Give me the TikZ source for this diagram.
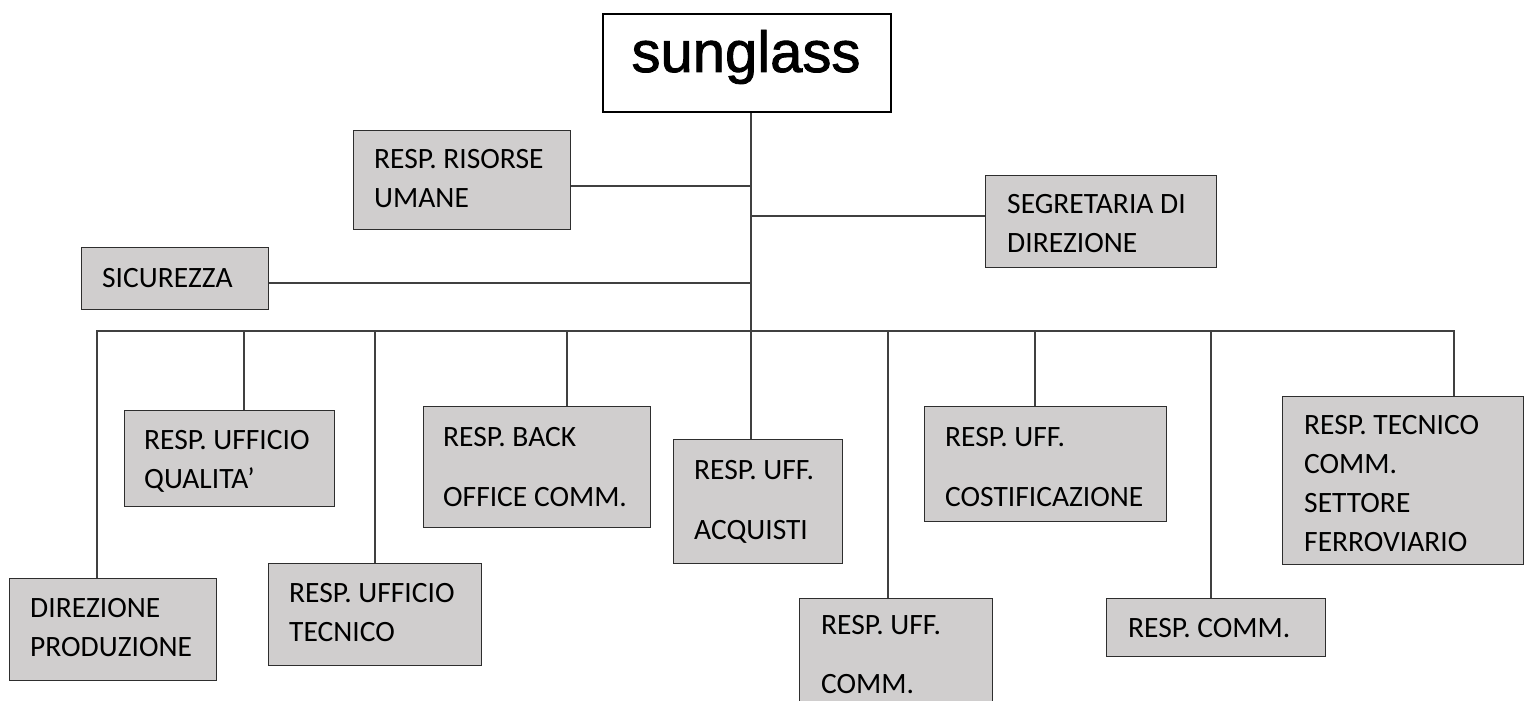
\documentclass[tikz,border=0pt]{standalone}
\usepackage{fontspec}
\setmainfont{Carlito}
\newfontfamily\logofont[FakeBold=1.5]{Liberation Sans}
\usetikzlibrary{calc}
\definecolor{boxgray}{HTML}{D0CECE}
\definecolor{edgegray}{HTML}{2E2E2E}
\definecolor{linegray}{HTML}{404040}
\tikzset{
  unitbox/.style={draw=edgegray, fill=boxgray, line width=1.3pt, inner sep=0pt, anchor=north west},
  logobox/.style={draw=black, fill=white, line width=2pt, inner sep=0pt, anchor=north west},
  boxtext/.style={anchor=base west, align=left, inner sep=0pt, font=\fontsize{29.5}{39}\selectfont, text=black},
  logotext/.style={anchor=base, inner sep=0pt, font=\logofont\fontsize{58}{60}\selectfont, text=black},
  link/.style={draw=linegray, line width=1.1pt},
}
\begin{document}
\begin{tikzpicture}[x=1pt,y=1pt]
\path[use as bounding box, fill=white] (0,0) rectangle (1529,-701);
\clip (0,0) rectangle (1529,-701);

% connector end points
\coordinate (trunk) at (751,-331);
\coordinate (jr) at (751,-186);
\coordinate (js) at (751,-216);
\coordinate (jc) at (751,-283);
\coordinate (b1) at (97,-331);
\coordinate (b2) at (244,-331);
\coordinate (b3) at (375,-331);
\coordinate (b4) at (567,-331);
\coordinate (b6) at (888,-331);
\coordinate (b7) at (1035,-331);
\coordinate (b8) at (1211,-331);
\coordinate (b9) at (1454,-331);

% boxes
\node[logobox, minimum width=288pt, minimum height=98pt] (sun) at (602,-13) {};
\node[unitbox, minimum width=217pt, minimum height=99pt] (ris) at (353,-130) {};
\node[unitbox, minimum width=231pt, minimum height=92pt] (seg) at (985,-175) {};
\node[unitbox, minimum width=187pt, minimum height=62pt] (sic) at (81,-247) {};
\node[unitbox, minimum width=207pt, minimum height=102pt] (dir) at (9,-578) {};
\node[unitbox, minimum width=210pt, minimum height=96pt] (qual) at (124,-410) {};
\node[unitbox, minimum width=213pt, minimum height=102pt] (tec) at (268,-563) {};
\node[unitbox, minimum width=227pt, minimum height=121pt] (back) at (423,-406) {};
\node[unitbox, minimum width=169pt, minimum height=124pt] (acq) at (673,-439) {};
\node[unitbox, minimum width=193pt, minimum height=130pt] (ucomm) at (799,-598) {};
\node[unitbox, minimum width=242pt, minimum height=115pt] (cost) at (924,-406) {};
\node[unitbox, minimum width=219pt, minimum height=58pt] (rcomm) at (1106,-598) {};
\node[unitbox, minimum width=241pt, minimum height=168pt] (tcomm) at (1282,-396) {};

% connectors
\draw[link] (sun.south -| trunk) -- (trunk) -- (trunk |- acq.north);
\draw[link] (ris.east |- jr) -- (jr);
\draw[link] (js) -- (js -| seg.west);
\draw[link] (sic.east |- jc) -- (jc);
\draw[link] (b1 |- dir.north) -- (b1) -- (b9) -- (b9 |- tcomm.north);
\draw[link] (b2) -- (b2 |- qual.north);
\draw[link] (b3) -- (b3 |- tec.north);
\draw[link] (b4) -- (b4 |- back.north);
\draw[link] (b6) -- (b6 |- ucomm.north);
\draw[link] (b7) -- (b7 |- cost.north);
\draw[link] (b8) -- (b8 |- rcomm.north);

% texts (base anchor = baseline of the last line)
\node[logotext] (sun-t) at (746,-72) {sunglass};
\node[boxtext] (ris-t) at ($(ris.north west)+(21,-77)$) {RESP. RISORSE\\UMANE};
\node[boxtext] (seg-t) at ($(seg.north west)+(22,-77)$) {SEGRETARIA DI\\DIREZIONE};
\node[boxtext] (sic-t) at ($(sic.north west)+(21,-40)$) {SICUREZZA};
\node[boxtext] (dir-t) at ($(dir.north west)+(21,-78)$) {DIREZIONE\\PRODUZIONE};
\node[boxtext] (qual-t) at ($(qual.north west)+(20,-78)$) {RESP. UFFICIO\\QUALITA’};
\node[boxtext] (tec-t) at ($(tec.north west)+(21,-78)$) {RESP. UFFICIO\\TECNICO};
\node[boxtext] (back-t) at ($(back.north west)+(20,-100)$) {RESP. BACK\\[21pt]OFFICE COMM.};
\node[boxtext] (acq-t) at ($(acq.north west)+(21,-100)$) {RESP. UFF.\\[21pt]ACQUISTI};
\node[boxtext] (ucomm-t) at ($(ucomm.north west)+(22,-95)$) {RESP. UFF.\\[20pt]COMM.};
\node[boxtext] (cost-t) at ($(cost.north west)+(21,-100)$) {RESP. UFF.\\[21pt]COSTIFICAZIONE};
\node[boxtext] (rcomm-t) at ($(rcomm.north west)+(22,-39)$) {RESP. COMM.};
\node[boxtext] (tcomm-t) at ($(tcomm.north west)+(22,-155)$) {RESP. TECNICO\\COMM.\\SETTORE\\FERROVIARIO};
\end{tikzpicture}
\end{document}
